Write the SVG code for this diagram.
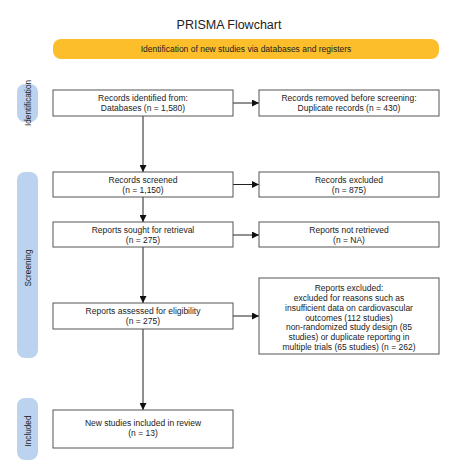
<svg xmlns="http://www.w3.org/2000/svg" width="461" height="470" viewBox="0 0 461 470">
<style>
text{font-family:"Liberation Sans",Arial,sans-serif;fill:#222;}
.t{font-size:8.5px;text-anchor:middle;}
.box{fill:#fff;stroke:#555;stroke-width:1;}
.pill{fill:#BCD3EF;}
.side{font-size:8.2px;text-anchor:middle;}
.ln{stroke:#222;stroke-width:1;fill:none;marker-end:url(#ah);}
</style>
<defs>
<marker id="ah" viewBox="0 0 10 10" refX="10" refY="5" markerWidth="7" markerHeight="7" markerUnits="userSpaceOnUse" orient="auto"><path d="M0,0 L10,5 L0,10 z" fill="#111"/></marker>
</defs>
<rect width="461" height="470" fill="#fff"/>
<text x="229" y="29" style="font-size:12.5px;text-anchor:middle">PRISMA Flowchart</text>
<g id="banner"><rect x="53" y="39" width="386" height="20" rx="8" fill="#FCBF2B"/><text class="t" x="246" y="52" style="font-size:8.5px">Identification of new studies via databases and registers</text></g>
<g id="side-identification"><rect class="pill" x="17" y="84" width="21" height="38" rx="8"/><text class="side" transform="translate(30.5,103) rotate(-90)">Identification</text></g>
<g id="side-screening"><rect class="pill" x="17" y="172" width="21" height="186" rx="8"/><text class="side" transform="translate(30.5,268) rotate(-90)">Screening</text></g>
<g id="side-included"><rect class="pill" x="17" y="398" width="21" height="62" rx="8"/><text class="side" transform="translate(30.5,431) rotate(-90)">Included</text></g>
<g id="connectors">
<line class="ln" x1="233" y1="103" x2="259" y2="103"/>
<line class="ln" x1="233" y1="184.5" x2="259" y2="184.5"/>
<line class="ln" x1="233" y1="235" x2="259" y2="235"/>
<line class="ln" x1="233" y1="316" x2="259" y2="316"/>
<line class="ln" x1="143" y1="116" x2="143" y2="172"/>
<line class="ln" x1="143" y1="197" x2="143" y2="222"/>
<line class="ln" x1="143" y1="247" x2="143" y2="303"/>
<line class="ln" x1="143" y1="329" x2="143" y2="410"/>
</g>
<g id="n1"><rect class="box" x="53" y="90" width="180" height="26"/><text class="t" x="143" y="101">Records identified from:</text><text class="t" x="143" y="111">Databases (n = 1,580)</text></g>
<g id="n2"><rect class="box" x="259" y="90" width="180" height="26"/><text class="t" x="349" y="101">Records removed before screening:</text><text class="t" x="349" y="111">Duplicate records (n = 430)</text></g>
<g id="n3"><rect class="box" x="53" y="172" width="180" height="25"/><text class="t" x="143" y="182.5">Records screened</text><text class="t" x="143" y="192.5">(n = 1,150)</text></g>
<g id="n4"><rect class="box" x="259" y="172" width="180" height="25"/><text class="t" x="349" y="182.5">Records excluded</text><text class="t" x="349" y="192.5">(n = 875)</text></g>
<g id="n5"><rect class="box" x="53" y="222" width="180" height="25"/><text class="t" x="143" y="232.5">Reports sought for retrieval</text><text class="t" x="143" y="242.5">(n = 275)</text></g>
<g id="n6"><rect class="box" x="259" y="222" width="180" height="25"/><text class="t" x="349" y="232.5">Reports not retrieved</text><text class="t" x="349" y="242.5">(n = NA)</text></g>
<g id="n7"><rect class="box" x="53" y="303" width="180" height="26"/><text class="t" x="143" y="314">Reports assessed for eligibility</text><text class="t" x="143" y="324">(n = 275)</text></g>
<g id="n8"><rect class="box" x="259" y="278" width="180" height="76"/>
<text class="t" x="349" y="291">Reports excluded:</text>
<text class="t" x="349" y="301">excluded for reasons such as</text>
<text class="t" x="349" y="311">insufficient data on cardiovascular</text>
<text class="t" x="349" y="320.5">outcomes (112 studies)</text>
<text class="t" x="349" y="330">non-randomized study design (85</text>
<text class="t" x="349" y="340">studies) or duplicate reporting in</text>
<text class="t" x="349" y="350">multiple trials (65 studies) (n = 262)</text></g>
<g id="n9"><rect class="box" x="53" y="410" width="180" height="38"/><text class="t" x="143" y="426">New studies included in review</text><text class="t" x="143" y="436">(n = 13)</text></g>
</svg>
